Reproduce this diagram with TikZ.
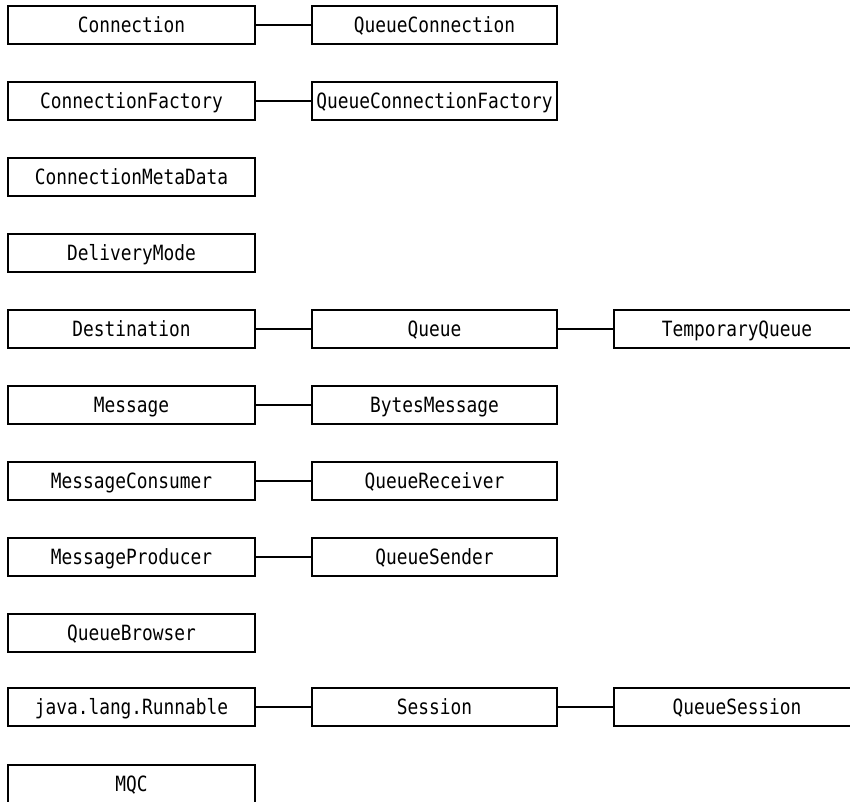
\documentclass[tikz,border=0pt]{standalone}
\usepackage{fontspec}
\newfontfamily\boxfont[FakeStretch=0.85]{DejaVu Sans Mono}
\begin{document}
\begin{tikzpicture}[x=1pt,y=-1pt,
  cls/.style={draw=black, line width=1.6pt, fill=white, inner sep=0pt,
    minimum height=38pt, text height=15pt, text depth=0pt,
    font=\boxfont\fontsize{21pt}{21pt}\selectfont},
  colA/.style={cls, minimum width=247pt},
  colB/.style={cls, minimum width=245pt},
  colC/.style={cls, minimum width=246pt},
  link/.style={draw=black, line width=1.5pt}]
\useasboundingbox (0,0) rectangle (850,801);
% first column: interfaces
\node[colA] (conn)  at (131.5,25)  {Connection};
\node[colA] (cf)    at (131.5,101) {ConnectionFactory};
\node[colA] (cmd)   at (131.5,177) {ConnectionMetaData};
\node[colA] (dm)    at (131.5,253) {DeliveryMode};
\node[colA] (dest)  at (131.5,329) {Destination};
\node[colA] (msg)   at (131.5,405) {Message};
\node[colA] (mc)    at (131.5,481) {MessageConsumer};
\node[colA] (mp)    at (131.5,557) {MessageProducer};
\node[colA] (qb)    at (131.5,633) {QueueBrowser};
\node[colA] (run)   at (131.5,707) {java.lang.Runnable};
\node[colA] (mqc)   at (131.5,784) {MQC};
% second column
\node[colB] (qconn) at (434.5,25)  {QueueConnection};
\node[colB] (qcf)   at (434.5,101) {QueueConnectionFactory};
\node[colB] (queue) at (434.5,329) {Queue};
\node[colB] (bm)    at (434.5,405) {BytesMessage};
\node[colB] (qr)    at (434.5,481) {QueueReceiver};
\node[colB] (qs)    at (434.5,557) {QueueSender};
\node[colB] (sess)  at (434.5,707) {Session};
% third column
\node[colC] (tq)    at (737,329) {TemporaryQueue};
\node[colC] (qsess) at (737,707) {QueueSession};
% connectors
\draw[link] (conn) -- (qconn);
\draw[link] (cf) -- (qcf);
\draw[link] (dest) -- (queue);
\draw[link] (queue) -- (tq);
\draw[link] (msg) -- (bm);
\draw[link] (mc) -- (qr);
\draw[link] (mp) -- (qs);
\draw[link] (run) -- (sess);
\draw[link] (sess) -- (qsess);
\end{tikzpicture}
\end{document}
